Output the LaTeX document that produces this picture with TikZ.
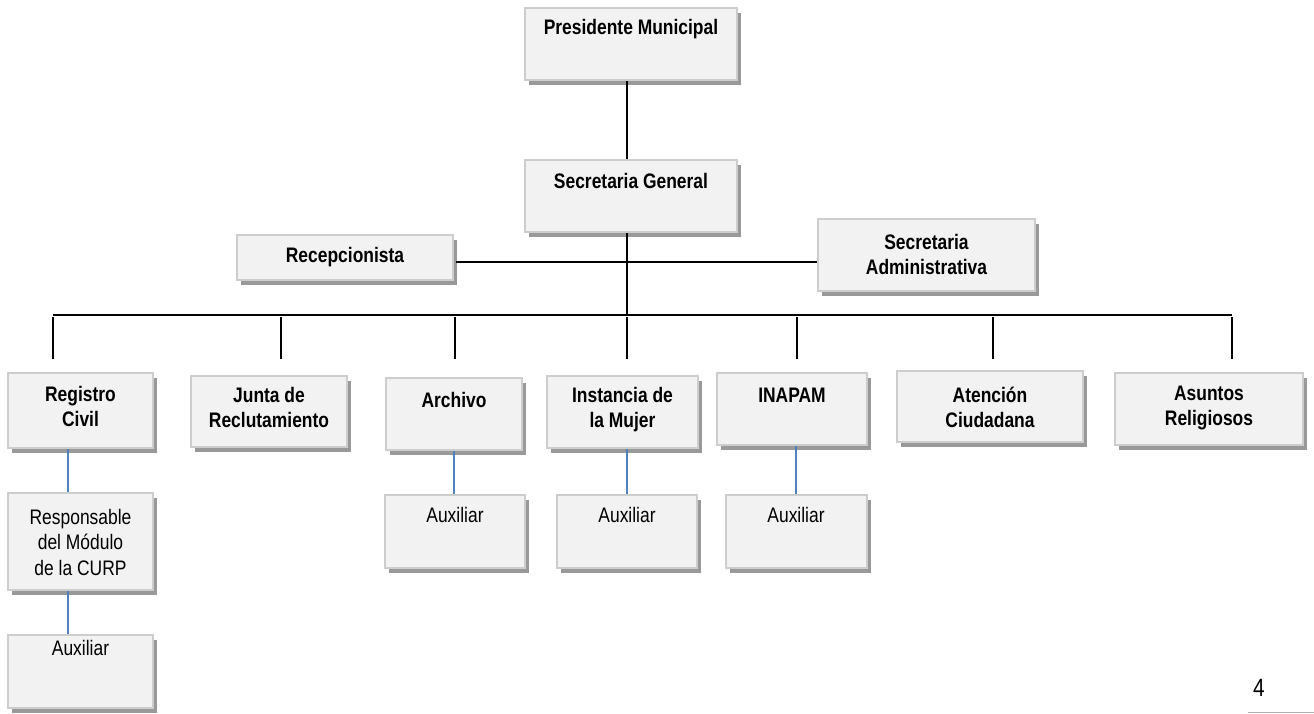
\documentclass[tikz,border=0pt]{standalone}
\usepackage{fontspec}
\setmainfont{Liberation Sans}[FakeStretch=0.83]
\usetikzlibrary{shadows}
\definecolor{boxfill}{HTML}{F2F2F2}
\definecolor{boxborder}{HTML}{CDCDCD}
\definecolor{linkblue}{HTML}{4F81BD}
\tikzset{
  box/.style={draw=boxborder, line width=1.8pt, fill=boxfill, inner sep=0pt,
    drop shadow={shadow xshift=3.5pt, shadow yshift=-4.5pt, fill=black, opacity=0.4}},
  lbl/.style={align=center, inner sep=0pt, font=\fontsize{21}{25}\selectfont\bfseries},
  lblr/.style={align=center, inner sep=0pt, font=\fontsize{21}{25.5}\selectfont},
  conn/.style={draw=black, line width=2pt},
  sub/.style={draw=linkblue, line width=1.6pt},
}
\newcommand{\orgbox}[5]{%
  \node[box, minimum width={#4-#2}, minimum height={#5-#3}] (#1) at ({(#2+#4)/2},{(#3+#5)/2}) {};}
\begin{document}
\begin{tikzpicture}[x=1pt,y=-1pt]
\useasboundingbox (0,0) rectangle (1314,713);
% boxes
\orgbox{pm}{525}{8}{737}{80}
\orgbox{sg}{525}{160}{737}{232}
\orgbox{rec}{237}{235}{453}{280}
\orgbox{sa}{818}{219}{1035}{291}
\orgbox{rc}{8}{373}{153}{448}
\orgbox{jr}{191}{376}{347}{447}
\orgbox{ar}{386}{378}{522}{450}
\orgbox{im}{547}{376}{698}{448}
\orgbox{ina}{717}{373}{867}{445}
\orgbox{ac}{897}{371}{1083}{442}
\orgbox{as}{1115}{373}{1303}{445}
\orgbox{resp}{8}{493}{153}{590}
\orgbox{auxa}{8}{635}{153}{708}
\orgbox{auxb}{385}{495}{525}{568}
\orgbox{auxc}{557}{495}{697}{568}
\orgbox{auxd}{726}{495}{867}{568}
% texts
\node[lbl] (tpm) at (631,29) {Presidente Municipal};
\node[lbl] (tsg) at (631,181) {Secretaria General};
\node[lbl] (trec) at (345,257) {Recepcionista};
\node[lbl] (tsa) at (926.5,254.5) {Secretaria\\Administrativa};
\node[lbl] (trc) at (80.5,406.5) {Registro\\Civil};
\node[lbl] (tjr) at (269,407.5) {Junta de\\Reclutamiento};
\node[lbl] (tar) at (454,400) {Archivo};
\node[lbl] (tim) at (622.5,409.5) {Instancia de\\la Mujer};
\node[lbl] (tina) at (792,395) {INAPAM};
\node[lbl] (tac) at (990,407.5) {Atención\\Ciudadana};
\node[lbl] (tas) at (1209,407.5) {Asuntos\\Religiosos};
\node[lblr] (tresp) at (80.5,542) {Responsable\\del Módulo\\de la CURP};
\node[lblr] (tauxa) at (80.5,648) {Auxiliar};
\node[lblr] (tauxb) at (455,515) {Auxiliar};
\node[lblr] (tauxc) at (627,515) {Auxiliar};
\node[lblr] (tauxd) at (796,515) {Auxiliar};
\node[lblr, font=\fontsize{25}{28}\selectfont] (pg) at (1259,688) {4};
% bus coordinates
\coordinate (bus) at (627,315);
\coordinate (busL) at (53,315);
\coordinate (busR) at (1232,315);
% connectors
\draw[conn] ([xshift=-4pt]pm.south) -- ([xshift=-4pt]sg.north);
\draw[conn] ([xshift=-4pt]sg.south) -- (bus);
\draw[conn] ([shift={(2pt,-4.5pt)}]rec.east) -- ([yshift=-4.5pt]rec.east -| sa.west);
\draw[conn] (busL) -- (busR);
\foreach \x in {53, 281, 455, 627, 797, 993, 1232}{
  \draw[conn] (\x,317) -- (\x,359);
}
% sub connectors
\draw[sub] ([xshift=-12.5pt]rc.south) -- ([xshift=-12.5pt]resp.north);
\draw[sub] ([xshift=-12.5pt]resp.south) -- ([xshift=-12.5pt]auxa.north);
\draw[sub] (ar.south) -- (ar.south |- auxb.north);
\draw[sub] ([xshift=4.5pt]im.south) -- ([xshift=4.5pt]im.south |- auxc.north);
\draw[sub] ([xshift=4pt]ina.south) -- ([xshift=4pt]ina.south |- auxd.north);
% footer rule
\draw[gray!60, line width=0.8pt] (1248,712) -- (1314,712);
\end{tikzpicture}
\end{document}
